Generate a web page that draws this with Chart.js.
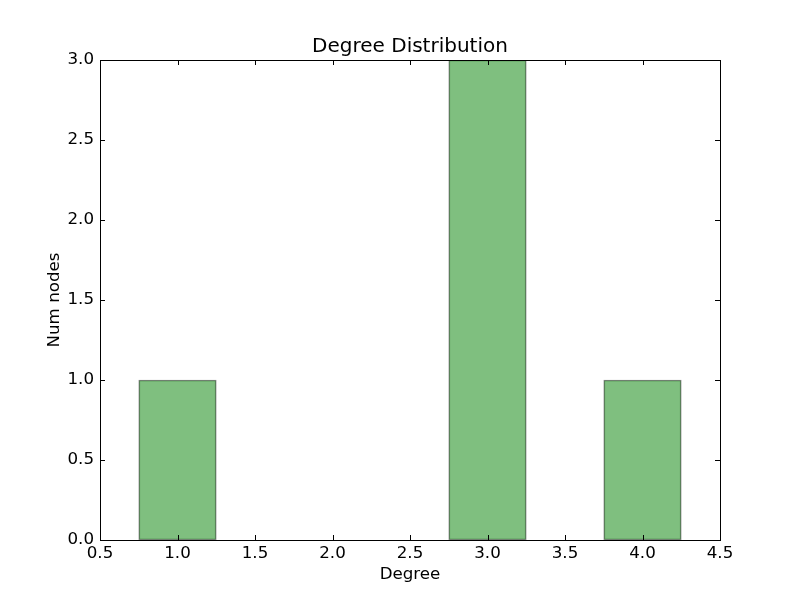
<!DOCTYPE html>
<html>
<head>
<meta charset="utf-8">
<script src="https://cdn.jsdelivr.net/npm/chart.js@4"></script>
<style>
  body { margin: 0; background: #fff; }
</style>
</head>
<body>
<canvas id="grafico-grau" width="800" height="600"></canvas>
<script>
// histogram of node degrees
const degrees = [1, 2, 3, 4];
const numNodes = [1, 0, 3, 1];
const xTicks = [0.5, 1.0, 1.5, 2.0, 2.5, 3.0, 3.5, 4.0, 4.5];
const yTicks = [0.0, 0.5, 1.0, 1.5, 2.0, 2.5, 3.0];

const fonte = 'DejaVu Sans';

// frame + inward ticks, matplotlib classic look
const moldura = {
    id: 'moldura',
    afterDatasetsDraw(chart) {
        const { ctx, chartArea: a, scales } = chart;
        const len = 5;
        ctx.save();
        ctx.strokeStyle = '#000';
        ctx.lineWidth = 1;
        ctx.beginPath();
        scales.x.ticks.forEach(t => {
            const px = Math.round(scales.x.getPixelForValue(t.value)) + 0.5;
            ctx.moveTo(px, a.bottom); ctx.lineTo(px, a.bottom - len);
            ctx.moveTo(px, a.top); ctx.lineTo(px, a.top + len);
        });
        scales.y.ticks.forEach(t => {
            const py = Math.round(scales.y.getPixelForValue(t.value)) + 0.5;
            ctx.moveTo(a.left, py); ctx.lineTo(a.left + len, py);
            ctx.moveTo(a.right, py); ctx.lineTo(a.right - len, py);
        });
        ctx.stroke();
        ctx.strokeRect(Math.round(a.left) + 0.5, Math.round(a.top) + 0.5,
            Math.round(a.right - a.left), Math.round(a.bottom - a.top));
        ctx.restore();
    }
};

const ctx = document.getElementById('grafico-grau');
new Chart(ctx, {
    type: 'bar',
    data: {
        datasets: [{
            label: 'Num nodes',
            data: degrees.map((d, i) => ({ x: d, y: numNodes[i] })),
            backgroundColor: 'rgba(0, 128, 0, 0.5)',
            borderColor: 'rgba(0, 0, 0, 0.5)',
            borderWidth: 1,
            borderSkipped: false,
            barPercentage: 1.0,
            categoryPercentage: 1.0
        }]
    },
    options: {
        responsive: false,
        animation: false,
        devicePixelRatio: 1,
        layout: { padding: { left: 20, right: 0, top: 0, bottom: 0 } },
        plugins: {
            legend: { display: false },
            tooltip: { enabled: false },
            title: {
                display: true,
                text: 'Degree Distribution',
                color: '#000',
                font: { family: fonte, size: 20, weight: 'normal' },
                padding: { top: 35, bottom: 1 }
            }
        },
        scales: {
            x: {
                type: 'linear',
                offset: false,
                min: 0.5,
                max: 4.5,
                afterBuildTicks: s => { s.ticks = xTicks.map(v => ({ value: v })); },
                afterFit: s => { s.height = 60; },
                grid: { display: false, drawTicks: false, offset: false },
                border: { display: false },
                ticks: {
                    color: '#000',
                    padding: 4,
                    maxRotation: 0,
                    autoSkip: false,
                    font: { family: fonte, size: 16.7 },
                    callback: v => Number(v).toFixed(1)
                },
                title: {
                    display: true,
                    text: 'Degree',
                    color: '#000',
                    font: { family: fonte, size: 16.7 },
                    padding: { top: 0, bottom: 15 }
                }
            },
            y: {
                min: 0,
                max: 3,
                afterBuildTicks: s => { s.ticks = yTicks.map(v => ({ value: v })); },
                afterFit: s => { s.width = 80; },
                grid: { display: false, drawTicks: false },
                border: { display: false },
                ticks: {
                    color: '#000',
                    padding: 6,
                    autoSkip: false,
                    font: { family: fonte, size: 16.7 },
                    callback: v => Number(v).toFixed(1)
                },
                title: {
                    display: true,
                    text: 'Num nodes',
                    color: '#000',
                    font: { family: fonte, size: 16.7 },
                    padding: { top: 25, bottom: 0 }
                }
            },
            // empty right margin so the title centres over the plot
            margem: {
                type: 'linear',
                position: 'right',
                afterFit: s => { s.width = 80; },
                grid: { display: false, drawTicks: false },
                border: { display: false },
                ticks: { display: false }
            }
        }
    },
    plugins: [moldura]
});
</script>
</body>
</html>
